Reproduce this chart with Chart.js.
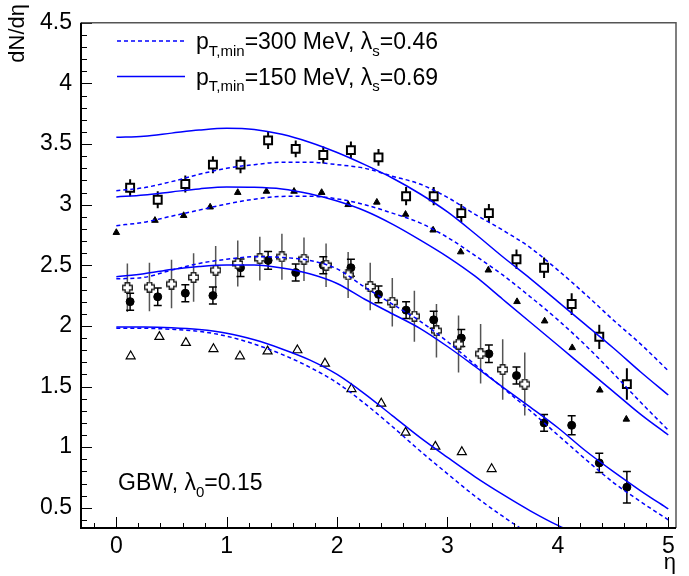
<!DOCTYPE html>
<html>
<head>
<meta charset="utf-8">
<script src="https://cdn.jsdelivr.net/npm/chart.js@4.4.1/dist/chart.umd.min.js"></script>
<style>
  html, body { margin: 0; padding: 0; background: #fff; }
  #wrap { width: 689px; height: 576px; }
</style>
</head>
<body>
<div id="wrap"><canvas id="dndeta" width="689" height="576"></canvas></div>
<script>
const FONT = "'Liberation Sans', Arial, Helvetica, sans-serif";

// model curves, sampled every 0.25 in eta
const etaGrid = [0, 0.25, 0.5, 0.75, 1, 1.25, 1.5, 1.75, 2, 2.25, 2.5, 2.75, 3, 3.25, 3.5, 3.75, 4, 4.25, 4.5, 4.75, 5];

// pT,min = 150 MeV (solid)
const solid1 = [3.555, 3.565, 3.59, 3.615, 3.63, 3.62, 3.58, 3.515, 3.43, 3.33, 3.22, 3.09, 2.94, 2.76, 2.57, 2.39, 2.20, 2.01, 1.82, 1.62, 1.43];
const solid2 = [3.063, 3.08, 3.105, 3.13, 3.146, 3.144, 3.13, 3.09, 3.03, 2.95, 2.84, 2.71, 2.57, 2.41, 2.22, 2.03, 1.84, 1.65, 1.46, 1.27, 1.10];
const solid3 = [2.406, 2.43, 2.465, 2.49, 2.503, 2.502, 2.477, 2.43, 2.35, 2.22, 2.10, 1.98, 1.83, 1.665, 1.495, 1.33, 1.16, 0.97, 0.80, 0.64, 0.49];
const solid4 = [1.99, 1.99, 1.985, 1.97, 1.94, 1.885, 1.81, 1.72, 1.60, 1.44, 1.26, 1.08, 0.915, 0.755, 0.61, 0.475, 0.355, 0.26, 0.18];

// pT,min = 300 MeV (dashed)
const dashed1 = [3.115, 3.14, 3.19, 3.25, 3.30, 3.33, 3.35, 3.35, 3.33, 3.30, 3.235, 3.17, 3.06, 2.92, 2.79, 2.645, 2.46, 2.26, 2.05, 1.85, 1.63];
const dashed2 = [2.827, 2.855, 2.905, 2.955, 3.005, 3.045, 3.068, 3.07, 3.048, 3.00, 2.93, 2.85, 2.73, 2.58, 2.42, 2.24, 2.05, 1.84, 1.61, 1.37, 1.14];
const dashed3 = [2.388, 2.40, 2.46, 2.515, 2.55, 2.57, 2.565, 2.54, 2.47, 2.32, 2.18, 2.04, 1.87, 1.68, 1.49, 1.30, 1.10, 0.90, 0.71, 0.55, 0.40];
const dashed4 = [1.98, 1.98, 1.972, 1.955, 1.915, 1.85, 1.765, 1.66, 1.53, 1.36, 1.17, 0.97, 0.78, 0.595, 0.43, 0.28, 0.15, 0.04];

// data
const etaBins = [0.125, 0.375, 0.625, 0.875, 1.125, 1.375, 1.625, 1.875, 2.125, 2.375, 2.625, 2.875, 3.125, 3.375, 3.625, 3.875, 4.125, 4.375, 4.625];

const squareVals = [3.14, 3.04, 3.17, 3.33, 3.33, 3.53, 3.46, 3.41, 3.45, 3.39, 3.07, 3.07, 2.93, 2.93, 2.55, 2.48, 2.18, 1.91, 1.52];
const squareErr = [0.07, 0.07, 0.07, 0.07, 0.07, 0.07, 0.07, 0.07, 0.07, 0.07, 0.075, 0.075, 0.075, 0.075, 0.08, 0.085, 0.09, 0.10, 0.13];

const circleVals = [2.20, 2.24, 2.27, 2.25, 2.48, 2.54, 2.44, 2.50, 2.48, 2.26, 2.13, 2.05, 1.90, 1.77, 1.59, 1.20, 1.18, 0.87, 0.67];
const circleErr = [0.07, 0.072, 0.07, 0.07, 0.072, 0.073, 0.07, 0.07, 0.07, 0.07, 0.07, 0.07, 0.07, 0.072, 0.07, 0.07, 0.078, 0.08, 0.13];

const triFullEta = [0.0, 0.35, 0.61, 0.85, 1.1, 1.36, 1.61, 1.86, 2.1, 2.36, 2.62, 2.87, 3.12, 3.37, 3.63, 3.88, 4.13, 4.38, 4.62];
const triFullVals = [2.77, 2.87, 2.91, 2.98, 3.10, 3.11, 3.11, 3.10, 3.0, 3.02, 2.92, 2.79, 2.61, 2.46, 2.20, 2.04, 1.82, 1.47, 1.23];

const triOpenEta = [0.13, 0.39, 0.63, 0.88, 1.12, 1.37, 1.64, 1.89, 2.13, 2.40, 2.62, 2.89, 3.13, 3.40];
const triOpenVals = [1.75, 1.91, 1.86, 1.81, 1.75, 1.79, 1.80, 1.69, 1.48, 1.36, 1.12, 1.005, 0.96, 0.82];

const crossEta = [0.1, 0.3, 0.5, 0.7, 0.9, 1.1, 1.3, 1.5, 1.7, 1.9, 2.1, 2.3, 2.5, 2.7, 2.9, 3.1, 3.3, 3.5, 3.7];
const crossVals = [2.315, 2.32, 2.345, 2.40, 2.46, 2.515, 2.555, 2.57, 2.55, 2.50, 2.42, 2.325, 2.195, 2.08, 1.96, 1.85, 1.77, 1.64, 1.52];
const crossErr = [0.20, 0.20, 0.20, 0.20, 0.20, 0.19, 0.18, 0.19, 0.18, 0.18, 0.19, 0.195, 0.20, 0.21, 0.22, 0.235, 0.245, 0.25, 0.26];

const xMajor = [0, 1, 2, 3, 4, 5];
const yMajor = [0.5, 1, 1.5, 2, 2.5, 3, 3.5, 4, 4.5];

function pairs(xs, ys) {
  return ys.map((v, i) => ({ x: xs[i], y: v }));
}

// open "+" marker like the ROOT style 28 symbol
function openCross(size, arm, lw) {
  const c = document.createElement('canvas');
  c.width = size; c.height = size;
  const g = c.getContext('2d');
  const h = size / 2, a = arm / 2, e = h - lw / 2;
  const pts = [[-a, -e], [a, -e], [a, -a], [e, -a], [e, a], [a, a], [a, e], [-a, e], [-a, a], [-e, a], [-e, -a], [-a, -a]];
  g.beginPath();
  pts.forEach((p, i) => (i ? g.lineTo(h + p[0], h + p[1]) : g.moveTo(h + p[0], h + p[1])));
  g.closePath();
  g.fillStyle = '#fff';
  g.fill();
  g.lineWidth = lw;
  g.strokeStyle = '#222';
  g.stroke();
  return c;
}

function curve(vals, dashed) {
  return {
    data: pairs(etaGrid, vals),
    showLine: true,
    borderColor: '#0000ff',
    borderWidth: 1.5,
    borderDash: dashed ? [4, 3] : [],
    pointRadius: 0,
    cubicInterpolationMode: 'monotone',
    order: 0,
  };
}

const errorBars = {
  id: 'errorBars',
  beforeDatasetsDraw(chart) {
    const { ctx, chartArea, scales: { x, y } } = chart;
    ctx.save();
    ctx.beginPath();
    ctx.rect(chartArea.left, chartArea.top, chartArea.width, chartArea.height);
    ctx.clip();
    chart.data.datasets.forEach(ds => {
      if (!ds.errors) return;
      ctx.strokeStyle = ds.errorColor;
      ctx.lineWidth = ds.errorWidth;
      ds.data.forEach((p, j) => {
        const e = ds.errors[j];
        const px = x.getPixelForValue(p.x);
        const lo = y.getPixelForValue(p.y - e);
        const hi = y.getPixelForValue(p.y + e);
        ctx.beginPath();
        ctx.moveTo(px, lo);
        ctx.lineTo(px, hi);
        if (ds.errorCap) {
          ctx.moveTo(px - ds.errorCap, lo);
          ctx.lineTo(px + ds.errorCap, lo);
          ctx.moveTo(px - ds.errorCap, hi);
          ctx.lineTo(px + ds.errorCap, hi);
        }
        ctx.stroke();
      });
    });
    ctx.restore();
  },
};

// text with subscripts: parts = [[text, isSub], ...]
function richText(ctx, x, y, parts, size) {
  parts.forEach(([t, sub]) => {
    ctx.font = (sub ? Math.round(size * 0.65) : size) + 'px ' + FONT;
    ctx.fillText(t, x, sub ? y + size * 0.3 : y);
    x += ctx.measureText(t).width;
  });
}

const frameAndText = {
  id: 'frameAndText',
  afterDraw(chart) {
    const { ctx, chartArea: a, scales: { x, y } } = chart;
    ctx.save();

    // inward ticks, major and minor
    ctx.strokeStyle = '#000';
    ctx.lineWidth = 1;
    ctx.beginPath();
    for (let v = 0.4; v <= 4.501; v += 0.1) {
      const py = Math.round(y.getPixelForValue(v)) + 0.5;
      const major = yMajor.some(m => Math.abs(m - v) < 1e-6);
      ctx.moveTo(a.left, py);
      ctx.lineTo(a.left + (major ? 11 : 6), py);
    }
    for (let v = -0.2; v <= 5.001; v += 0.2) {
      const px = Math.round(x.getPixelForValue(v)) + 0.5;
      const major = xMajor.some(m => Math.abs(m - v) < 1e-6);
      ctx.moveTo(px, a.bottom);
      ctx.lineTo(px, a.bottom - (major ? 11 : 5));
    }
    ctx.stroke();

    // frame
    ctx.lineWidth = 1.5;
    ctx.strokeStyle = '#555';
    ctx.beginPath();
    ctx.moveTo(a.left, a.top);
    ctx.lineTo(a.right, a.top);
    ctx.lineTo(a.right, a.bottom);
    ctx.stroke();
    ctx.lineWidth = 2;
    ctx.strokeStyle = '#000';
    ctx.beginPath();
    ctx.moveTo(a.left, a.top);
    ctx.lineTo(a.left, a.bottom);
    ctx.lineTo(a.right, a.bottom);
    ctx.stroke();

    // axis titles
    ctx.fillStyle = '#000';
    ctx.font = '22px ' + FONT;
    ctx.textAlign = 'right';
    ctx.textBaseline = 'alphabetic';
    ctx.fillText('\u03b7', a.right, 569);
    ctx.save();
    ctx.translate(24, 4);
    ctx.rotate(-Math.PI / 2);
    ctx.textAlign = 'right';
    ctx.fillText('dN/d\u03b7', 0, 0);
    ctx.restore();

    // legend
    ctx.textAlign = 'left';
    ctx.strokeStyle = '#0000ff';
    ctx.lineWidth = 1.5;
    ctx.setLineDash([4, 3]);
    ctx.beginPath();
    ctx.moveTo(117, 41);
    ctx.lineTo(185, 41);
    ctx.stroke();
    ctx.setLineDash([]);
    ctx.beginPath();
    ctx.moveTo(117, 76.5);
    ctx.lineTo(185, 76.5);
    ctx.stroke();
    richText(ctx, 196, 49, [['p', false], ['T,min', true], ['=300 MeV, \u03bb', false], ['s', true], ['=0.46', false]], 23);
    richText(ctx, 196, 84.5, [['p', false], ['T,min', true], ['=150 MeV, \u03bb', false], ['s', true], ['=0.69', false]], 23);

    // model label
    richText(ctx, 118, 490, [['GBW, \u03bb', false], ['0', true], ['=0.15', false]], 23);
    ctx.restore();
  },
};

new Chart(document.getElementById('dndeta'), {
  type: 'scatter',
  data: {
    datasets: [
      curve(solid1, false), curve(dashed1, true),
      curve(solid2, false), curve(dashed2, true),
      curve(solid3, false), curve(dashed3, true),
      curve(solid4, false), curve(dashed4, true),
      {
        data: pairs(etaBins, squareVals),
        pointStyle: 'rect', pointRadius: 5.6, borderWidth: 2,
        borderColor: '#000', backgroundColor: '#fff',
        errors: squareErr, errorColor: '#000', errorWidth: 2, errorCap: 0,
        order: 1,
      },
      {
        data: pairs(triFullEta, triFullVals),
        pointStyle: 'triangle', pointRadius: 3.8, borderWidth: 1,
        borderColor: '#000', backgroundColor: '#000',
        order: 1,
      },
      {
        data: pairs(crossEta, crossVals),
        pointStyle: openCross(11, 4.5, 1.4), pointRadius: 5,
        errors: crossErr, errorColor: '#555', errorWidth: 1.5, errorCap: 0,
        order: 1,
      },
      {
        data: pairs(etaBins, circleVals),
        pointStyle: 'circle', pointRadius: 4, borderWidth: 1,
        borderColor: '#000', backgroundColor: '#000',
        errors: circleErr, errorColor: '#000', errorWidth: 1.5, errorCap: 4,
        order: 1,
      },
      {
        data: pairs(triOpenEta, triOpenVals),
        pointStyle: 'triangle', pointRadius: 5.2, borderWidth: 1.2,
        borderColor: '#000', backgroundColor: '#fff',
        order: 1,
      },
    ],
  },
  options: {
    responsive: false,
    animation: false,
    layout: { padding: { left: 0, top: 15, right: 13, bottom: 0 } },
    plugins: {
      legend: { display: false },
      tooltip: { enabled: false },
    },
    scales: {
      x: {
        type: 'linear',
        min: -0.32,
        max: 5.07,
        afterFit: s => { s.height = 48; },
        afterBuildTicks: s => { s.ticks = xMajor.map(v => ({ value: v })); },
        ticks: {
          color: '#000',
          font: { family: FONT, size: 23 },
          padding: 5,
          maxRotation: 0,
          callback: v => String(v),
        },
        grid: { display: false, drawTicks: false },
        border: { display: false },
      },
      y: {
        type: 'linear',
        min: 0.333,
        max: 4.5,
        afterFit: s => { s.width = 81; },
        afterBuildTicks: s => { s.ticks = yMajor.map(v => ({ value: v })); },
        ticks: {
          color: '#000',
          font: { family: FONT, size: 23 },
          padding: 9,
          callback: v => String(v),
        },
        grid: { display: false, drawTicks: false },
        border: { display: false },
      },
    },
  },
  plugins: [errorBars, frameAndText],
});
</script>
</body>
</html>
